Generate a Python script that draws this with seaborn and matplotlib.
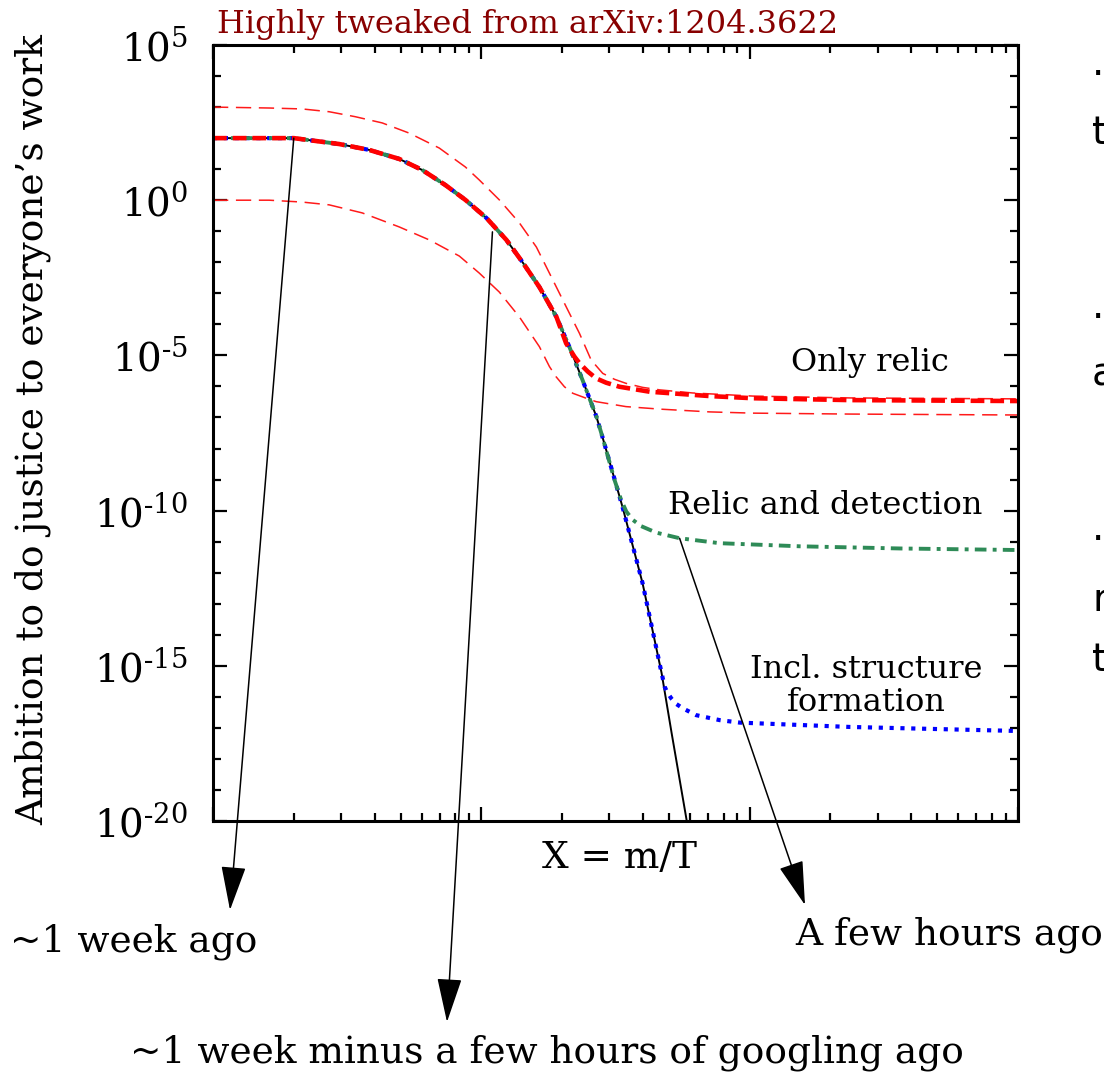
import matplotlib
matplotlib.use("Agg")
import matplotlib.pyplot as plt
import matplotlib.ticker as mticker
import seaborn as sns
import numpy as np

# ---- data (x = m/T, log10 of the y value) ----
main_x = [1.0, 1.49, 2.0, 2.95, 3.82, 4.94, 6.03, 7.34, 8.72, 10.44, 12.40, 14.22,
          16.46, 19.05, 21.30, 23.82, 26.86, 28.28, 33.58, 39.87, 46.96, 51.17, 58.21]
main_logy = [2.0, 2.0, 2.0, 1.81, 1.62, 1.33, 0.97, 0.49, 0.01, -0.57, -1.28, -1.99,
             -2.80, -3.76, -4.73, -5.79, -6.98, -7.63, -9.88, -12.33, -15.23, -17.16, -19.97]

# "Only relic" (thick red dashed) leaves the main curve after x ~ 19
relic_x = [20.70, 22.23, 23.21, 24.93, 26.79, 29.19, 32.72, 37.23, 42.36, 54.8, 70.9,
           102.9, 236.0, 1000.0]
relic_logy = [-4.61, -5.04, -5.25, -5.52, -5.74, -5.88, -6.01, -6.09, -6.17, -6.24,
              -6.31, -6.38, -6.44, -6.47]

# thin red dashed band around the relic curve
upper_x = [1.0, 1.62, 2.15, 2.71, 3.39, 4.27, 5.39, 6.97, 8.72, 9.83, 11.67, 13.86,
           16.04, 18.47, 20.70, 23.21, 25.66, 28.35, 31.35, 34.6, 39.9, 46.15, 61.26,
           102.6, 236.0, 1000.0]
upper_logy = [3.0, 2.97, 2.94, 2.85, 2.69, 2.49, 2.16, 1.68, 1.07, 0.65, 0.01, -0.73,
              -1.51, -2.57, -3.43, -4.29, -5.15, -5.58, -5.77, -5.90, -6.03, -6.11,
              -6.21, -6.31, -6.37, -6.40]
lower_x = [1.0, 1.62, 2.15, 2.71, 3.60, 4.94, 6.40, 8.28, 9.83, 11.67, 13.86, 16.46,
           17.94, 19.0, 20.4, 21.92, 24.59, 26.79, 34.6, 46.15, 70.9, 102.6, 236.0, 1000.0]
lower_logy = [0.0, 0.0, -0.06, -0.15, -0.41, -0.86, -1.28, -1.80, -2.35, -2.96, -3.76,
              -4.72, -5.36, -5.69, -6.01, -6.22, -6.38, -6.49, -6.65, -6.73, -6.82,
              -6.86, -6.89, -6.92]

# "Relic and detection" (green dash-dot) leaves after x ~ 31
detect_x = [31.35, 33.2, 34.7, 36.7, 39.4, 44.87, 54.8, 77.3, 153.7, 363.0, 1000.0]
detect_logy = [-9.01, -9.66, -10.03, -10.30, -10.50, -10.71, -10.89, -11.05, -11.15,
               -11.22, -11.27]

# "Incl. structure formation" (blue dotted) leaves after x ~ 48
struct_x = [48.2, 49.14, 51.03, 53.28, 56.37, 63.2, 77.3, 91.8, 236.0, 1000.0]
struct_logy = [-15.67, -15.83, -16.05, -16.23, -16.37, -16.59, -16.75, -16.83, -16.97,
               -17.10]

y_ticks = [1e-20, 1e-15, 1e-10, 1e-5, 1e0, 1e5]
y_ticklabels = [r"$\mathregular{10^{\text{-}20}}$", r"$\mathregular{10^{\text{-}15}}$",
                r"$\mathregular{10^{\text{-}10}}$", r"$\mathregular{10^{\text{-}5}}$",
                r"$\mathregular{10^{0}}$", r"$\mathregular{10^{5}}$"]
y_minor = [10.0 ** k for k in range(-20, 6)]
x_ticks = [1, 10, 100, 1000]

sns.set_theme(style="ticks")
plt.rcParams["font.family"] = ["DejaVu Serif"]
plt.rcParams["text.color"] = "black"
plt.rcParams["mathtext.fontset"] = "custom"
plt.rcParams["mathtext.rm"] = "Liberation Serif"
plt.rcParams["mathtext.it"] = "Liberation Serif:italic"

W, H = 1104, 1074
fig = plt.figure(figsize=(W / 100, H / 100), dpi=100)
ax = fig.add_axes([213 / W, 1 - 821 / H, (1018 - 213) / W, (821 - 45) / H])


def fx(px):
    return px / W


def fy(py):
    return 1 - py / H


def curve(x_head, ly_head, x_tail, ly_tail):
    x = np.array(list(x_head) + list(x_tail))
    y = 10.0 ** np.array(list(ly_head) + list(ly_tail))
    return x, y


mx, my = curve(main_x, main_logy, [], [])
rx, ry = curve(main_x[:14], main_logy[:14], relic_x, relic_logy)
gx, gy = curve(main_x[:18], main_logy[:18], detect_x, detect_logy)
bx, by = curve(main_x[:21], main_logy[:21], struct_x, struct_logy)
ux, uy = curve(upper_x, upper_logy, [], [])
lx, ly = curve(lower_x, lower_logy, [], [])

thin = dict(color="#ff1a1a", lw=1.1, linestyle=(0, (10, 5)), errorbar=None)
sns.lineplot(x=ux, y=uy, ax=ax, **thin)
sns.lineplot(x=lx, y=ly, ax=ax, **thin)
sns.lineplot(x=mx, y=my, ax=ax, color="black", lw=1.4, errorbar=None)
sns.lineplot(x=bx, y=by, ax=ax, color="#0000ff", lw=3.0, linestyle=(0, (1, 1.6)), errorbar=None)
sns.lineplot(x=gx, y=gy, ax=ax, color="#2e8b57", lw=2.8, linestyle=(0, (3, 1.6, 1, 1.6)), errorbar=None)
sns.lineplot(x=rx, y=ry, ax=ax, color="#ff0000", lw=3.3, linestyle=(0, (3.0, 1.3)), errorbar=None)

ax.set_xscale("log")
ax.set_yscale("log")
ax.set_xlim(1, 1000)
ax.set_ylim(1e-20, 1e5)
ax.set_xticks(x_ticks)
ax.xaxis.set_minor_locator(mticker.LogLocator(base=10, subs=np.arange(2, 10)))
ax.xaxis.set_minor_formatter(mticker.NullFormatter())
ax.set_xticklabels([])
ax.set_yticks(y_ticks)
ax.set_yticklabels(y_ticklabels)
ax.set_yticks(y_minor, minor=True)
ax.yaxis.set_minor_formatter(mticker.NullFormatter())
ax.set_xlabel("")
ax.set_ylabel("")
ax.grid(False)
for s in ax.spines.values():
    s.set_linewidth(2.2)
    s.set_color("black")
ax.tick_params(which="both", direction="in", top=True, right=True, color="black")
ax.tick_params(which="major", length=10, width=1.6)
ax.tick_params(which="minor", length=6, width=1.6)
ax.tick_params(axis="y", which="major", labelsize=28, pad=18, labelcolor="black")

# texts
fig.text(fx(217), fy(33), "Highly tweaked from arXiv:1204.3622", color="#880000",
         fontsize=23, ha="left", va="baseline")
fig.text(fx(33), fy(430), "Ambition to do justice to everyone\u2019s work", rotation=90,
         fontsize=27, ha="center", va="center")
fig.text(fx(620), fy(858), "X = m/T", fontsize=27, ha="center", va="center")
fig.text(fx(870), fy(362), "Only relic", fontsize=23, ha="center", va="center")
fig.text(fx(825), fy(505), "Relic and detection", fontsize=23, ha="center", va="center")
fig.text(fx(866), fy(686), "Incl. structure\nformation", fontsize=23, ha="center",
         va="center", multialignment="center", linespacing=1.1)
fig.text(fx(10), fy(942), "~1 week ago", fontsize=27, ha="left", va="center")
fig.text(fx(795), fy(935), "A few hours ago", fontsize=27, ha="left", va="center")
fig.text(fx(547), fy(1053), "~1 week minus a few hours of googling ago", fontsize=27,
         ha="center", va="center")

# text cut off by the right edge of the picture
for ch, py in [("\u00b7", 75), ("t", 133), ("\u00b7", 318), ("a", 375),
               ("\u00b7", 540), ("r", 600), ("t", 660)]:
    fig.text(fx(1092), fy(py), ch, fontsize=28, family="DejaVu Sans",
             ha="left", va="center")

# arrows from the curves to the captions
arrow = dict(arrowstyle="-|>,head_length=1.0,head_width=0.28", mutation_scale=28,
             lw=1.1, color="black", shrinkA=0, shrinkB=0)
ax.annotate("", xy=(fx(230), fy(910)), xycoords="figure fraction",
            xytext=(main_x[2], 10.0 ** main_logy[2]), textcoords="data", arrowprops=arrow)
ax.annotate("", xy=(fx(447), fy(1022)), xycoords="figure fraction",
            xytext=(11.0, 10.0 ** -1.02), textcoords="data", arrowprops=arrow)
ax.annotate("", xy=(fx(805), fy(905)), xycoords="figure fraction",
            xytext=(detect_x[6], 10.0 ** detect_logy[6]), textcoords="data", arrowprops=arrow)

fig.savefig("out.png", dpi=100)
